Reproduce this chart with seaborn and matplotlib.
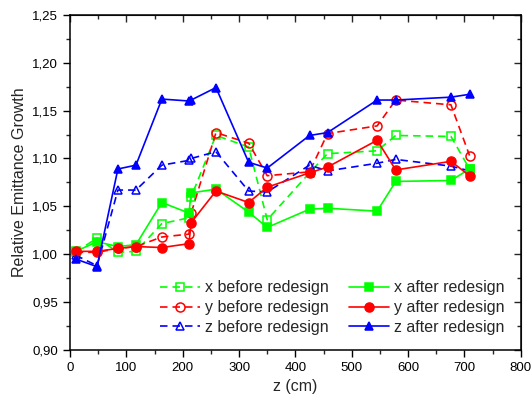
import matplotlib
matplotlib.use("Agg")
import matplotlib.pyplot as plt
from matplotlib.ticker import MultipleLocator, FuncFormatter
import seaborn as sns

# z positions (cm) shared by all series
z_cm = [10, 48, 85, 117, 163, 211, 215, 259, 317, 350, 425, 457, 545, 578, 676, 709]

x_before = [1.002, 1.017, 1.002, 1.003, 1.032, 1.038, 1.060, 1.124, 1.112, 1.036,
            1.085, 1.105, 1.108, 1.124, 1.123, 1.089]
y_before = [1.002, 1.002, 1.006, 1.008, 1.018, 1.021, 1.043, 1.127, 1.116, 1.082,
            1.086, 1.126, 1.134, 1.161, 1.156, 1.103]
z_before = [0.999, 0.988, 1.067, 1.067, 1.093, 1.098, 1.100, 1.107, 1.066, 1.065,
            1.093, 1.087, 1.095, 1.099, 1.092, 1.087]

x_after = [1.003, 1.013, 1.008, 1.010, 1.054, 1.043, 1.064, 1.068, 1.044, 1.028,
           1.047, 1.048, 1.045, 1.076, 1.077, 1.089]
y_after = [1.003, 1.003, 1.006, 1.008, 1.007, 1.011, 1.033, 1.066, 1.054, 1.070,
           1.085, 1.091, 1.119, 1.088, 1.097, 1.082]
z_after = [0.995, 0.987, 1.089, 1.093, 1.162, 1.160, 1.161, 1.174, 1.096, 1.090,
           1.124, 1.127, 1.161, 1.161, 1.164, 1.167]

series = [
    ("x before redesign", x_before, "#00ff00", "s", False),
    ("y before redesign", y_before, "#ff0000", "o", False),
    ("z before redesign", z_before, "#0000ff", "^", False),
    ("x after redesign", x_after, "#00ff00", "s", True),
    ("y after redesign", y_after, "#ff0000", "o", True),
    ("z after redesign", z_after, "#0000ff", "^", True),
]

sns.set_style("ticks")
plt.rcParams["font.family"] = ["Liberation Sans", "DejaVu Sans"]

fig = plt.figure(figsize=(5.32, 4.0), dpi=100)
ax = fig.add_axes([0.1316, 0.125, 0.8474, 0.838])

for label, vals, color, mk, filled in series:
    sns.lineplot(x=z_cm, y=vals, ax=ax, label=label, color=color,
                 marker=mk, markersize=6 if mk != "o" else 6.5,
                 markerfacecolor=color if filled else "none",
                 markeredgecolor=color, markeredgewidth=1.1,
                 linewidth=1.2, linestyle="-" if filled else (0, (4.5, 3)),
                 errorbar=None)

ax.set_xlim(0, 800)
ax.set_ylim(0.90, 1.25)
ax.xaxis.set_major_locator(MultipleLocator(100))
ax.xaxis.set_minor_locator(MultipleLocator(50))
ax.yaxis.set_major_locator(MultipleLocator(0.05))
ax.yaxis.set_minor_locator(MultipleLocator(0.025))
ax.yaxis.set_major_formatter(FuncFormatter(lambda v, p: f"{v:.2f}".replace(".", ",")))
ax.tick_params(which="major", direction="out", length=5, width=1, labelsize=9.5,
               colors="black")
ax.tick_params(which="minor", direction="out", length=3, width=1)

for s in ax.spines.values():
    s.set_color("black")
    s.set_linewidth(1.1)

# mirrored inward ticks on top and right
top = ax.secondary_xaxis("top")
top.xaxis.set_major_locator(MultipleLocator(100))
top.xaxis.set_minor_locator(MultipleLocator(50))
top.tick_params(which="major", direction="in", length=5, width=1, labeltop=False)
top.tick_params(which="minor", direction="in", length=3, width=1)
right = ax.secondary_yaxis("right")
right.yaxis.set_major_locator(MultipleLocator(0.05))
right.yaxis.set_minor_locator(MultipleLocator(0.025))
right.tick_params(which="major", direction="in", length=5, width=1, labelright=False)
right.tick_params(which="minor", direction="in", length=3, width=1)

ax.set_xlabel("z (cm)", fontsize=11.5)
ax.set_ylabel("Relative Emittance Growth", fontsize=11.5)

ax.legend(ncol=2, frameon=False, fontsize=11.5, loc="lower left",
          bbox_to_anchor=(0.2, 0.045), borderaxespad=0, borderpad=0,
          handlelength=2.5, handletextpad=0.3, columnspacing=1.3,
          labelspacing=0.3)

fig.savefig("out.png", dpi=100)
